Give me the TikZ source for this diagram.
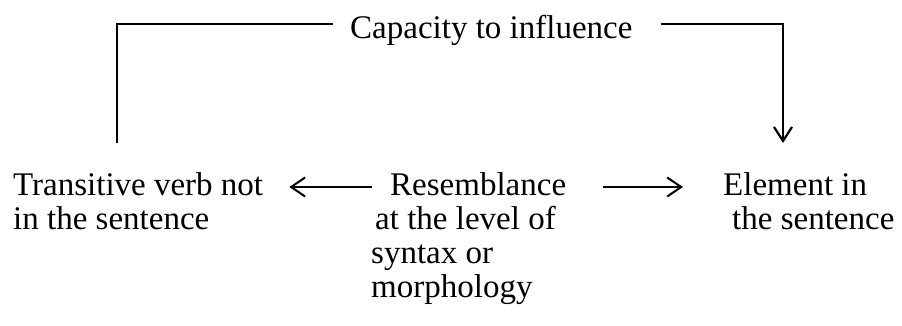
\documentclass[tikz,border=0pt]{standalone}
\usepackage{fontspec}
\setmainfont{Liberation Serif}
\usepackage{tikz}
\usetikzlibrary{positioning, arrows.meta}

\begin{document}
\begin{tikzpicture}[
    x=1pt, y=-1pt,
    font=\fontsize{33}{34}\selectfont,
    lbl/.style={inner sep=0pt, align=left, anchor=north west},
    link/.style={line width=2.2pt},
    arr/.style={-{Straight Barb[length=14pt, width=19pt]}, line width=2pt}
]
\useasboundingbox (0,0) rectangle (902,325);

\node[inner sep=0pt, anchor=base west] (cap) at (350,38) {Capacity to influence};
\node[lbl] (verb) at (13,172.5)  {Transitive verb not\\in the sentence};
\node[lbl] (res)  at (371,172.5) {\hspace*{19pt}Resemblance\\\hspace*{4pt}at the level of\\syntax or\\morphology};
\node[lbl] (elem) at (723,172.5) {Element in\\\hspace*{9pt}the sentence};

% free ends of the top connector
\coordinate (verbtop) at ([shift={(104pt,29.5pt)}]verb.north west);
\coordinate (elemtop) at ([shift={(60pt,29.5pt)}]elem.north west);

\draw[link] (verbtop) |- ([shift={(-17pt,14pt)}]cap.base west);
\draw[link, -{Straight Barb[length=14pt, width=18pt]}] ([shift={(28pt,14pt)}]cap.base east) -| (elemtop);

\draw[arr] ([shift={(1pt,-14.5pt)}]res.north west) -- ([shift={(26pt,-14.5pt)}]verb.north east);
\draw[arr] ([shift={(37pt,-14.5pt)}]res.north east) -- ([shift={(-40pt,-14.5pt)}]elem.north west);
\end{tikzpicture}
\end{document}
